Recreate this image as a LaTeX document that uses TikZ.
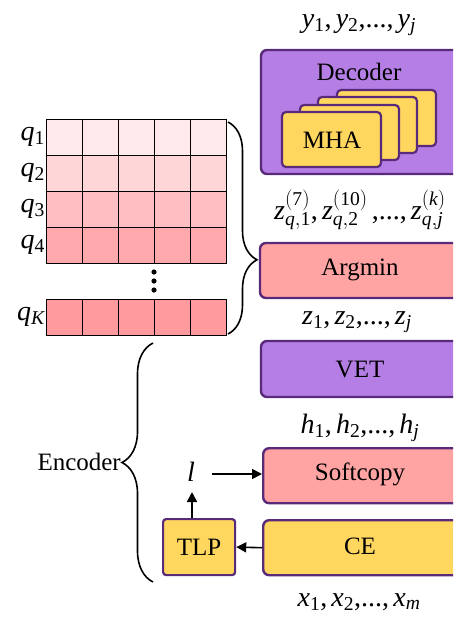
\documentclass[tikz,border=0pt]{standalone}
\usepackage{fontspec}
\setmainfont{Liberation Serif}
\usetikzlibrary{arrows.meta,decorations.pathreplacing,calc}
\newcommand{\mi}[1]{\mathit{#1}}
\newcommand{\mr}[1]{\mathrm{#1}}
\newcommand{\cm}{\hbox{,}\,}
\newcommand{\dts}{\hbox{,...,}\,}
\definecolor{purpfill}{HTML}{B47EE5}
\definecolor{purpline}{HTML}{5A2A7A}
\definecolor{pinkfill}{HTML}{FFA3A3}
\definecolor{yelfill}{HTML}{FFD75F}
\definecolor{rowa}{HTML}{FFE9EA}
\definecolor{rowb}{HTML}{FFD6D8}
\definecolor{rowc}{HTML}{FFBFC2}
\definecolor{rowd}{HTML}{FFA9AD}
\definecolor{rowk}{HTML}{FF9A9E}
\tikzset{
  blk/.style={draw=purpline, line width=2.4pt, rounded corners=6pt},
  card/.style={draw=purpline, fill=yelfill, line width=2.2pt, rounded corners=4pt},
  cell/.style={draw=black, line width=1.5pt},
  lbl/.style={font=\fontsize{25}{30}\selectfont, inner sep=0pt},
  mlbl/.style={font=\fontsize{28}{33}\selectfont, inner sep=0pt},
  arr/.style={line width=1.6pt, -{Triangle[length=10pt,width=10pt]}},
  brc/.style={line width=1.6pt, decorate},
}
\begin{document}
\begin{tikzpicture}[x=1pt,y=-1pt]
\useasboundingbox (0,0) rectangle (453,619);
\clip (0,0) rectangle (453,619);
% ---- Decoder
\draw[blk, fill=purpfill] (261,50) rectangle (462,174);
\node[lbl] (dec) at (359,72) {Decoder};
\draw[card] (337,90) rectangle (436,146);
\draw[card] (318,97) rectangle (417,153);
\draw[card] (300,105) rectangle (399,160);
\draw[card] (282,112) rectangle (381,167);
\node[lbl] (mha) at (332,140) {MHA};
\node[mlbl, anchor=base] (ys) at (359,27) {$\mi{y}_{\mr{1}}\cm\mi{y}_{\mr{2}}\dts\mi{y}_{\mi{j}}$};
\node[mlbl] (zq) at (360,210) {$\mi{z}^{\mr{(7)}}_{\mi{q}\mr{,1}}\cm\mi{z}^{\mr{(10)}}_{\mi{q}\mr{,2}}\,\dts\mi{z}^{(\mi{k})}_{\mi{q}\mr{,}\mi{j}}$};
% ---- Argmin
\draw[blk, fill=pinkfill] (260,243) rectangle (460,298);
\node[lbl] (arg) at (360,270) {Argmin};
\node[mlbl] (zs) at (357,322) {$\mi{z}_{\mr{1}}\cm\mi{z}_{\mr{2}}\dts\mi{z}_{\mi{j}}$};
% ---- VET
\draw[blk, fill=purpfill] (261,341) rectangle (460,397);
\node[lbl] (vet) at (360,369) {VET};
\node[mlbl] (hs) at (360,428) {$\mi{h}_{\mr{1}}\cm\mi{h}_{\mr{2}}\dts\mi{h}_{\mi{j}}$};
% ---- Softcopy
\node[blk, fill=pinkfill, minimum width=199pt, minimum height=55pt, anchor=north west, inner sep=0pt] (soft) at (262,447) {};
\node[lbl] at (360,474) {Softcopy};
% ---- CE
\node[blk, fill=yelfill, minimum width=199pt, minimum height=55pt, anchor=north west, inner sep=0pt] (ce) at (262,519) {};
\node[lbl] at (360,546) {CE};
\node[mlbl] (xs) at (359,602) {$\mi{x}_{\mr{1}}\cm\mi{x}_{\mr{2}}\dts\mi{x}_{\mi{m}}$};
% ---- TLP
\node[draw=purpline, fill=yelfill, line width=2.2pt, rounded corners=3pt, minimum width=72pt, minimum height=56pt, anchor=north west, inner sep=0pt, font=\fontsize{25}{30}\selectfont] (tlp) at (162,518) {TLP};
\node[mlbl] (l) at (191,472) {$\mi{l}$};
\coordinate (ltop) at (192,492);
\coordinate (lright) at (212,474);
\draw[arr] (ce.west) -- (tlp.east);
\draw[arr] (tlp.north -| ltop) -- (ltop);
\draw[arr] (lright) -- (lright -| soft.west);
% ---- codebook grid
\foreach \r/\c/\yt in {\mr{1}/rowa/119.5, \mr{2}/rowb/155.5, \mr{3}/rowc/191.5, \mr{4}/rowd/227.5, \mi{K}/rowk/299.5}{
  \foreach \i in {0,...,4}{
    \draw[cell, fill=\c] ({46.5+\i*36},\yt) rectangle ({46.5+(\i+1)*36},{\yt+36});
  }
  \node[mlbl, anchor=east] at (45,{\yt+17}) {$\mi{q}_{\r}$};
}
\foreach \yy in {272,281,290}{
  \fill (154,\yy) circle (2.6pt);
}
% ---- braces
\draw[brc, decoration={brace, amplitude=29pt, aspect=0.65}] (228,122) -- (228,334);
\draw[brc, decoration={brace, amplitude=31pt, aspect=0.5}] (153,582) -- (153,343);
\node[lbl, anchor=east] (enc) at (121,462) {Encoder};
\end{tikzpicture}
\end{document}
